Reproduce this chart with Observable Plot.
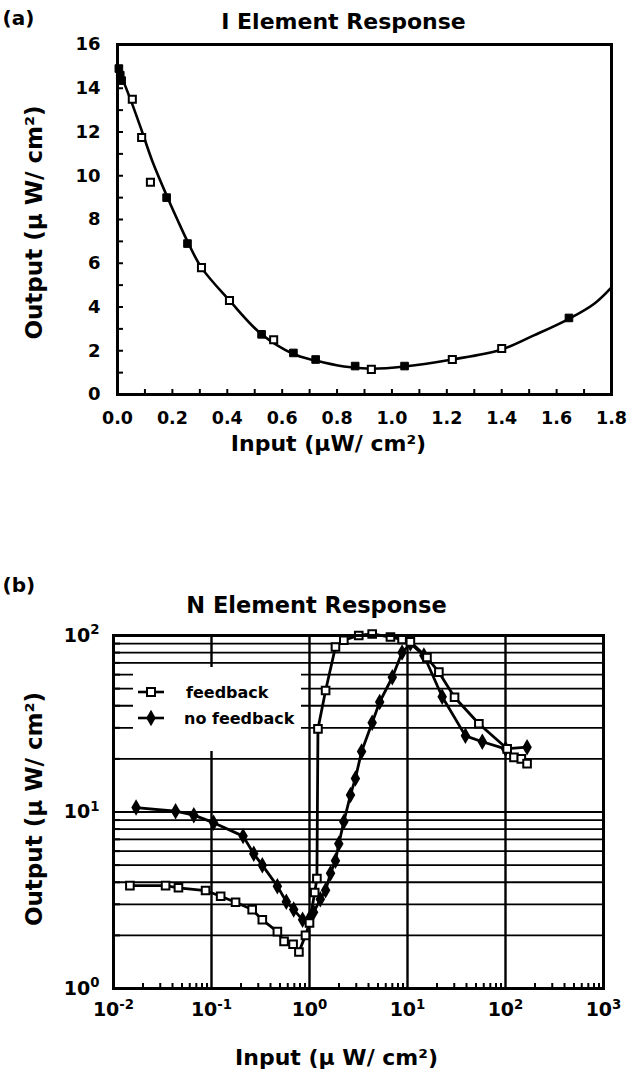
<!DOCTYPE html>
<html><head><meta charset="utf-8">
<script src="https://cdn.jsdelivr.net/npm/d3@7"></script>
<script src="https://cdn.jsdelivr.net/npm/@observablehq/plot@0.6"></script>
<style>
html,body{margin:0;padding:0;background:#fff;}
#wrap{position:relative;width:634px;height:1077px;overflow:hidden;font-family:"DejaVu Sans",sans-serif;font-weight:bold;color:#000;}
#pa{position:absolute;left:0;top:0;}
#pb{position:absolute;left:0;top:560px;}
#legend{position:absolute;left:133px;top:667px;width:168px;height:84px;background:#fff;}
</style></head><body>
<div id="wrap"><div id="pa"></div><div id="pb"></div><div id="legend"></div></div>
<script>
// ---------- Panel (a): I Element Response ----------
const aTitle = "I Element Response";
const aTag = "(a)";
const aXLabel = "Input (\u00b5W/ cm\u00b2)";
const aYLabel = "Output (\u00b5 W/ cm\u00b2)";
const aXTicks = [0, 0.2, 0.4, 0.6, 0.8, 1.0, 1.2, 1.4, 1.6, 1.8];
const aYTicks = [0, 2, 4, 6, 8, 10, 12, 14, 16];
const aXMinor = [0.1, 0.2, 0.3, 0.4, 0.5, 0.6, 0.7, 0.8, 0.9, 1.0, 1.1, 1.2, 1.3, 1.4, 1.5, 1.6, 1.7];
const aYMinor = [1, 2, 3, 4, 5, 6, 7, 8, 9, 10, 11, 12, 13, 14, 15];
// fitted curve
const aFitX = [0, 0.05, 0.09, 0.126, 0.179, 0.218, 0.255, 0.306, 0.408, 0.525, 0.641, 0.722, 0.825, 0.925, 1.046, 1.22, 1.40, 1.517, 1.645, 1.737, 1.8];
const aFitY = [15.0, 13.4, 12.0, 10.7, 9.1, 8.0, 7.0, 5.8, 4.3, 2.75, 1.85, 1.55, 1.28, 1.18, 1.28, 1.6, 2.06, 2.7, 3.46, 4.15, 4.9];
// measured points: open squares and (printed) filled squares
const aOpenX = [0.054, 0.088, 0.12, 0.306, 0.408, 0.569, 0.925, 1.22, 1.40];
const aOpenY = [13.5, 11.75, 9.7, 5.8, 4.3, 2.5, 1.15, 1.6, 2.1];
const aFillX = [0.005, 0.01, 0.015, 0.179, 0.255, 0.525, 0.641, 0.722, 0.866, 1.046, 1.645];
const aFillY = [14.9, 14.6, 14.35, 9.0, 6.9, 2.75, 1.9, 1.6, 1.3, 1.3, 3.5];

// ---------- Panel (b): N Element Response ----------
const bTitle = "N Element Response";
const bTag = "(b)";
const bXLabel = "Input (\u00b5 W/ cm\u00b2)";
const bYLabel = "Output (\u00b5 W/ cm\u00b2)";
const seriesNames = ["feedback", "no feedback"];
const bXTicks = [1e-2, 1e-1, 1e0, 1e1, 1e2, 1e3];
const bYTicks = [1e0, 1e1, 1e2];
const bXGrid = [1e-1, 1e0, 1e1, 1e2];
const bYGrid = [2, 3, 4, 5, 6, 7, 8, 9, 10, 20, 30, 40, 50, 60, 70, 80, 90];
const bXMinor = [0.02,0.03,0.04,0.05,0.06,0.07,0.08,0.09, 0.2,0.3,0.4,0.5,0.6,0.7,0.8,0.9, 2,3,4,5,6,7,8,9, 20,30,40,50,60,70,80,90, 200,300,400,500,600,700,800,900];
const bYMinor = [2,3,4,5,6,7,8,9, 20,30,40,50,60,70,80,90];
const fbX = [0.0147, 0.034, 0.046, 0.087, 0.124, 0.176, 0.26, 0.33, 0.47, 0.55, 0.68, 0.78, 0.91, 1.0, 1.13, 1.19, 1.22, 1.46, 1.84, 2.24, 3.18, 4.36, 6.7, 8.8, 10.7, 15.8, 20.9, 30.2, 53.5, 104, 122, 145, 166];
const fbY = [3.83, 3.83, 3.72, 3.59, 3.33, 3.08, 2.8, 2.45, 2.1, 1.85, 1.78, 1.61, 2.0, 2.35, 3.5, 4.2, 29.6, 48.8, 86, 94, 100, 102, 98, 95, 92, 75, 62, 44.7, 31.6, 22.8, 20.4, 20.0, 18.8];
const nfbX = [0.017, 0.043, 0.066, 0.105, 0.21, 0.27, 0.33, 0.47, 0.58, 0.69, 0.85, 1.0, 1.1, 1.29, 1.46, 1.64, 1.84, 1.99, 2.24, 2.62, 2.94, 3.4, 4.36, 5.2, 7.0, 8.8, 10.7, 14.7, 22.6, 39, 58, 100, 166];
const nfbY = [10.6, 10.1, 9.6, 8.7, 7.3, 5.8, 5.0, 3.8, 3.1, 2.8, 2.45, 2.5, 2.7, 3.2, 3.6, 4.5, 5.3, 6.6, 8.8, 12.5, 15.5, 22, 32, 42, 58, 80, 90, 77, 45, 27, 25, 22.8, 23.3];

const zip = (xs, ys) => xs.map((x, i) => ({x, y: ys[i]}));
const font = {fontFamily: "DejaVu Sans, sans-serif", fontWeight: "bold", fontSize: "17px", color: "#000", background: "#fff", overflow: "visible"};

// ---------- draw panel (a) ----------
const plotA = Plot.plot({
  width: 634, height: 560,
  marginLeft: 117, marginRight: 23, marginTop: 44, marginBottom: 166,
  style: font,
  x: {domain: [0, 1.8]},
  y: {domain: [0, 16]},
  marks: [
    Plot.line(zip(aFitX, aFitY), {x: "x", y: "y", curve: "catmull-rom", stroke: "#000", strokeWidth: 2.6}),
    Plot.dot(zip(aOpenX, aOpenY), {x: "x", y: "y", symbol: "square", r: 4, fill: "#fff", stroke: "#000", strokeWidth: 2}),
    Plot.dot(zip(aFillX, aFillY), {x: "x", y: "y", symbol: "square", r: 4.3, fill: "#000", stroke: "#000", strokeWidth: 1}),
    Plot.axisX(aXMinor, {anchor: "bottom", tickSize: 5, dy: -5, text: null, strokeWidth: 2, label: null}),
    Plot.axisY(aYMinor, {anchor: "left", tickSize: 6, dx: 6, text: null, strokeWidth: 2, label: null}),
    Plot.axisX(aXTicks, {anchor: "bottom", tickSize: 0, tickPadding: 17, tickFormat: d => d.toFixed(1), fontSize: 17.5, label: null}),
    Plot.axisY(aYTicks, {anchor: "left", tickSize: 0, tickPadding: 17, tickFormat: d => String(d), fontSize: 18, label: null}),
    Plot.frame({stroke: "#000", strokeWidth: 3}),
    Plot.text([aTitle], {text: d => d, frameAnchor: "top", textAnchor: "middle", dx: -21, dy: -31, fontSize: 22}),
    Plot.text([aTag], {text: d => d, frameAnchor: "top-left", textAnchor: "start", dx: -115, dy: -34, fontSize: 20}),
    Plot.text([aXLabel], {text: d => d, frameAnchor: "bottom", textAnchor: "middle", dx: -36, dy: 56, fontSize: 22}),
    Plot.text([aYLabel], {text: d => d, frameAnchor: "left", textAnchor: "middle", rotate: -90, dx: -83, dy: 3, fontSize: 23})
  ]
});
document.getElementById("pa").appendChild(plotA);

// ---------- draw panel (b) ----------
const supFmt = d => "10^" + Math.round(Math.log10(d));
const fbData = zip(fbX, fbY).map(d => ({...d, s: seriesNames[0]}));
const nfbData = zip(nfbX, nfbY).map(d => ({...d, s: seriesNames[1]}));
const plotB = Plot.plot({
  width: 634, height: 517,
  marginLeft: 113, marginRight: 31, marginTop: 75, marginBottom: 89,
  style: font,
  x: {type: "log", domain: [1e-2, 1e3]},
  y: {type: "log", domain: [1, 100]},
  marks: [
    Plot.ruleY(bYGrid, {stroke: "#000", strokeWidth: 1.8}),
    Plot.ruleX(bXGrid, {stroke: "#000", strokeWidth: 2.4}),
    Plot.axisX(bXMinor, {anchor: "bottom", tickSize: 5, dy: -5, text: null, strokeWidth: 2, label: null}),
    Plot.axisY(bYMinor, {anchor: "left", tickSize: 7, dx: 7, text: null, strokeWidth: 2, label: null}),
    Plot.line(nfbData, {x: "x", y: "y", stroke: "#000", strokeWidth: 2.8}),
    Plot.line(fbData, {x: "x", y: "y", stroke: "#000", strokeWidth: 2.8}),
    Plot.dot(nfbData, {x: "x", y: "y", symbol: "diamond", r: 5, fill: "#000"}),
    Plot.dot(fbData, {x: "x", y: "y", symbol: "square", r: 4.3, fill: "#fff", stroke: "#000", strokeWidth: 2}),
    Plot.axisX(bXTicks, {anchor: "bottom", tickSize: 0, tickPadding: 14, tickFormat: supFmt, fontSize: 19, label: null}),
    Plot.axisY(bYTicks, {anchor: "left", tickSize: 0, tickPadding: 14, tickFormat: supFmt, fontSize: 19, label: null}),
    Plot.frame({stroke: "#000", strokeWidth: 3}),
    Plot.text([bTitle], {text: d => d, frameAnchor: "top", textAnchor: "middle", dx: -42, dy: -38, fontSize: 22.5}),
    Plot.text([bTag], {text: d => d, frameAnchor: "top-left", textAnchor: "start", dx: -111, dy: -58, fontSize: 20}),
    Plot.text([bXLabel], {text: d => d, frameAnchor: "bottom", textAnchor: "middle", dx: -22, dy: 76, fontSize: 22}),
    Plot.text([bYLabel], {text: d => d, frameAnchor: "left", textAnchor: "middle", rotate: -90, dx: -79, dy: -3, fontSize: 23})
  ]
});
// exponent labels as real superscripts
plotB.querySelectorAll('g[aria-label$="tick label"] text').forEach(t => {
  const m = t.textContent.match(/^10\^(-?\d+)$/);
  if (!m) return;
  t.textContent = "10";
  const ts = document.createElementNS("http://www.w3.org/2000/svg", "tspan");
  ts.setAttribute("dy", "-0.55em");
  ts.setAttribute("font-size", "0.7em");
  ts.textContent = m[1];
  t.appendChild(ts);
});
document.getElementById("pb").appendChild(plotB);

// ---------- legend (panel b) ----------
const lg = d3.select("#legend").append("svg").attr("width", 168).attr("height", 84)
  .style("font-family", "DejaVu Sans, sans-serif").style("font-weight", "bold");
seriesNames.forEach((name, i) => {
  const cy = 25 + i * 26;
  lg.append("line").attr("x1", 5).attr("x2", 31).attr("y1", cy).attr("y2", cy).attr("stroke", "#000").attr("stroke-width", 2.6);
  if (i === 0) {
    lg.append("rect").attr("x", 14).attr("y", cy - 4).attr("width", 8).attr("height", 8).attr("fill", "#fff").attr("stroke", "#000").attr("stroke-width", 2);
  } else {
    lg.append("path").attr("d", d3.symbol(d3.symbolDiamond, Math.PI * 25)()).attr("transform", `translate(18,${cy})`).attr("fill", "#000");
  }
  lg.append("text").attr("x", i === 0 ? 53 : 51).attr("y", cy).attr("dy", "0.35em").attr("font-size", 16).text(name);
});
</script>
</body></html>
